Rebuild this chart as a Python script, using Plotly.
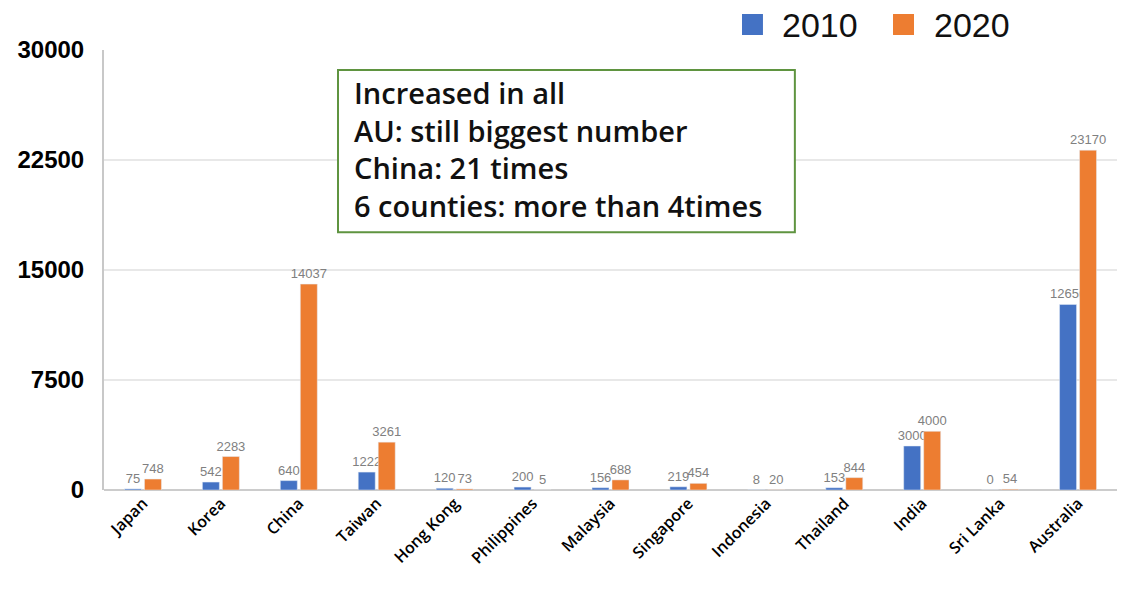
import plotly.graph_objects as go

countries = ["Japan", "Korea", "China", "Taiwan", "Hong Kong", "Philippines", "Malaysia",
             "Singapore", "Indonesia", "Thailand", "India", "Sri Lanka", "Australia"]
v2010 = [75, 542, 640, 1222, 120, 200, 156, 219, 8, 153, 3000, 0, 12650]
v2020 = [748, 2283, 14037, 3261, 73, 5, 688, 454, 20, 844, 4000, 54, 23170]
yticks = [0, 7500, 15000, 22500, 30000]
series_names = ["2010", "2020"]
series_colors = ["#4472C4", "#ED7D31"]
note_lines = ["Increased in all", "AU: still biggest number", "China: 21 times",
              "6 counties: more than 4times"]

label_font = dict(color="#808080", size=13, family="Liberation Sans")

fig = go.Figure()
for name, vals, col in zip(series_names, [v2010, v2020], series_colors):
    fig.add_trace(go.Bar(x=countries, y=vals, name=name, marker_color=col,
                         text=[str(v) for v in vals], textposition="outside",
                         textfont=label_font, cliponaxis=False, showlegend=False))

fig.update_layout(
    width=1131, height=600,
    margin=dict(l=104, r=14, t=50, b=110, autoexpand=False),
    paper_bgcolor="white", plot_bgcolor="white",
    barmode="group", bargap=0.487, bargroupgap=0.15,
    showlegend=False,
    font=dict(family="Liberation Sans"),
    uniformtext=dict(mode="show", minsize=13),
)
fig.update_yaxes(range=[0, 30000], tickvals=yticks, ticktext=["<b>%d</b>" % t for t in yticks],
                 tickfont=dict(size=24, family="Liberation Sans", color="black"),
                 showgrid=True, gridcolor="#e8e8e8", gridwidth=2,
                 showline=True, linecolor="#c8c8c8", linewidth=2,
                 zeroline=True, zerolinecolor="#cccccc", zerolinewidth=2,
                 ticks="", ticklabelstandoff=13)
fig.update_xaxes(tickangle=-45, tickfont=dict(size=16, family="Open Sans", color="black", weight=600),
                 showline=False, ticks="")

# legend keys
key_x0 = [0.6298, 0.7789]
key_w = 0.0207
text_x = [0.6673, 0.8174]
for name, col, kx, tx in zip(series_names, series_colors, key_x0, text_x):
    fig.add_shape(type="rect", xref="paper", yref="paper", x0=kx, x1=kx + key_w,
                  y0=1.0341, y1=1.0818, fillcolor=col, line=dict(width=0))
    fig.add_annotation(xref="paper", yref="paper", x=tx, y=1.0568, xanchor="left",
                       yanchor="middle", text=name, showarrow=False,
                       font=dict(size=34, family="Liberation Sans", color="#111"))

# note box
fig.add_shape(type="rect", xref="paper", yref="paper", x0=0.231, x1=0.682,
              y0=0.586, y1=0.9545, fillcolor="white", line=dict(color="#5f9440", width=2),
              layer="above")
fig.add_annotation(
    xref="paper", yref="paper", x=0.2448, y=0.775, xanchor="left", yanchor="middle",
    text="<br>".join(note_lines), align="left", showarrow=False,
    font=dict(size=29, family="Open Sans", color="#111", weight=600),
)

fig.update_traces(hoverinfo="none")
fig.write_html("out.html", config={"displayModeBar": False},
               post_script="document.body.style.margin='0';")
